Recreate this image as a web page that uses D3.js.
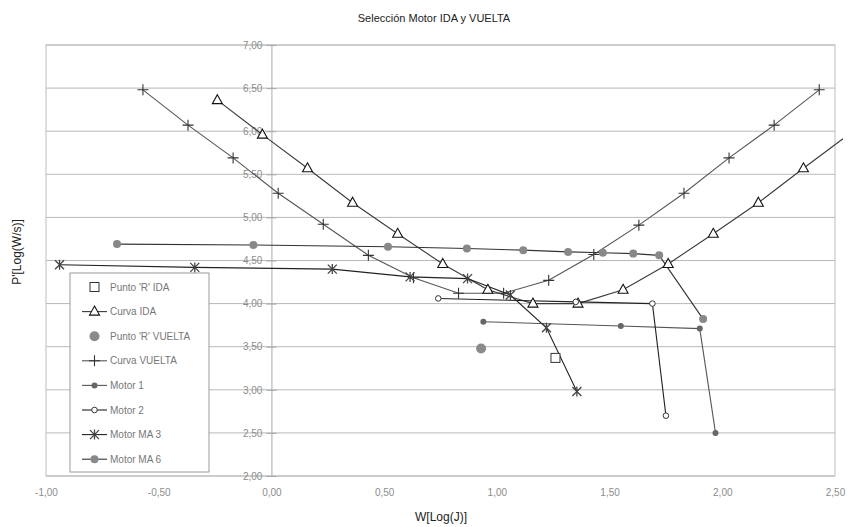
<!DOCTYPE html>
<html>
<head>
<meta charset="utf-8">
<script src="https://cdn.jsdelivr.net/npm/d3@7"></script>
<style>
  body { margin: 0; background: #fff; }
  svg { font-family: "Liberation Sans", Arial, sans-serif; }
</style>
</head>
<body>
<div id="chart"></div>
<script>
// data
var xTicks = [-1, -0.5, 0, 0.5, 1, 1.5, 2, 2.5];
var yTicks = [2, 2.5, 3, 3.5, 4, 4.5, 5, 5.5, 6, 6.5, 7];

var puntoIdaX = [1.26];
var puntoIdaY = [3.37];

var curvaIdaX = [-0.24, -0.04, 0.16, 0.36, 0.56, 0.76, 0.96, 1.16, 1.36, 1.56, 1.76, 1.96, 2.16, 2.36, 2.56];
var curvaIdaY = [6.36, 5.96, 5.57, 5.17, 4.81, 4.46, 4.16, 4.00, 4.00, 4.16, 4.46, 4.81, 5.17, 5.57, 5.96];

var puntoVueltaX = [0.93];
var puntoVueltaY = [3.48];

var curvaVueltaX = [-0.57, -0.37, -0.17, 0.03, 0.23, 0.43, 0.63, 0.83, 1.03, 1.23, 1.43, 1.63, 1.83, 2.03, 2.23, 2.43];
var curvaVueltaY = [6.48, 6.07, 5.69, 5.28, 4.92, 4.56, 4.30, 4.12, 4.12, 4.27, 4.57, 4.91, 5.28, 5.69, 6.07, 6.48];

var motor1X = [0.94, 1.55, 1.90, 1.97];
var motor1Y = [3.79, 3.74, 3.71, 2.50];

var motor2X = [0.74, 1.35, 1.69, 1.75];
var motor2Y = [4.06, 4.02, 4.00, 2.70];

var motorMA3X = [-0.94, -0.34, 0.27, 0.615, 0.87, 1.06, 1.22, 1.355];
var motorMA3Y = [4.45, 4.42, 4.40, 4.31, 4.29, 4.10, 3.72, 2.98];

var motorMA6X = [-0.685, -0.08, 0.517, 0.867, 1.117, 1.316, 1.47, 1.605, 1.72, 1.915];
var motorMA6Y = [4.69, 4.68, 4.66, 4.64, 4.62, 4.60, 4.59, 4.58, 4.56, 3.82];

var width = 848, height = 527;
var plotLeft = 46, plotRight = 835, plotTop = 45, plotBottom = 476;

//comma decimals, plain hyphen minus
var locale = d3.formatLocale({ decimal: ',', thousands: '.', grouping: [3], currency: ['', ''], minus: '-' });
var fmt = locale.format('.2f');

var x = d3.scaleLinear().domain([-1, 2.5]).range([plotLeft, plotRight]);
var y = d3.scaleLinear().domain([2, 7]).range([plotBottom, plotTop]);

function zip(xs, ys) {
	return xs.map(function (v, i) { return [v, ys[i]]; });
}

//marker shapes drawn as small paths
function marker(g, kind, px, py) {
	if (kind === 'square') {
		g.append('rect').attr('x', px - 4.5).attr('y', py - 4.5).attr('width', 9).attr('height', 9)
			.attr('fill', '#fff').attr('stroke', '#333').attr('stroke-width', 1);
	} else if (kind === 'triangle') {
		g.append('path').attr('d', 'M' + px + ',' + (py - 5.5) + 'L' + (px + 5) + ',' + (py + 3.5) + 'L' + (px - 5) + ',' + (py + 3.5) + 'Z')
			.attr('fill', '#fff').attr('stroke', '#111').attr('stroke-width', 1.1);
	} else if (kind === 'bigdot') {
		g.append('circle').attr('cx', px).attr('cy', py).attr('r', 5).attr('fill', '#8a8a8a');
	} else if (kind === 'plus') {
		g.append('path').attr('d', 'M' + (px - 5.5) + ',' + py + 'H' + (px + 5.5) + 'M' + px + ',' + (py - 5.5) + 'V' + (py + 5.5))
			.attr('stroke', '#333').attr('stroke-width', 1.1);
	} else if (kind === 'dot') {
		g.append('circle').attr('cx', px).attr('cy', py).attr('r', 3).attr('fill', '#666');
	} else if (kind === 'circle') {
		g.append('circle').attr('cx', px).attr('cy', py).attr('r', 2.8).attr('fill', '#fff')
			.attr('stroke', '#333').attr('stroke-width', 1);
	} else if (kind === 'star') {
		g.append('path').attr('d', 'M' + (px - 4.5) + ',' + (py - 4.5) + 'L' + (px + 4.5) + ',' + (py + 4.5) +
			'M' + (px + 4.5) + ',' + (py - 4.5) + 'L' + (px - 4.5) + ',' + (py + 4.5) +
			'M' + px + ',' + (py - 5) + 'V' + (py + 5))
			.attr('stroke', '#444').attr('stroke-width', 1.3);
	} else if (kind === 'midgdot') {
		g.append('circle').attr('cx', px).attr('cy', py).attr('r', 4).attr('fill', '#888');
	}
}

var series = [
	{ name: "Punto 'R' IDA", xs: puntoIdaX, ys: puntoIdaY, line: null, mark: 'square' },
	{ name: 'Curva IDA', xs: curvaIdaX, ys: curvaIdaY, line: '#3a3a3a', mark: 'triangle' },
	{ name: "Punto 'R' VUELTA", xs: puntoVueltaX, ys: puntoVueltaY, line: null, mark: 'bigdot' },
	{ name: 'Curva VUELTA', xs: curvaVueltaX, ys: curvaVueltaY, line: '#555', mark: 'plus' },
	{ name: 'Motor 1', xs: motor1X, ys: motor1Y, line: '#555', mark: 'dot' },
	{ name: 'Motor 2', xs: motor2X, ys: motor2Y, line: '#222', mark: 'circle' },
	{ name: 'Motor MA 3', xs: motorMA3X, ys: motorMA3Y, line: '#222', mark: 'star' },
	{ name: 'Motor MA 6', xs: motorMA6X, ys: motorMA6Y, line: '#333', mark: 'midgdot' }
];

var svg = d3.select('#chart').append('svg').attr('width', width).attr('height', height);

svg.append('defs').append('clipPath').attr('id', 'clip')
	.append('rect').attr('x', plotLeft).attr('y', plotTop - 10).attr('width', 843 - plotLeft).attr('height', plotBottom - plotTop + 20);

//title
svg.append('text').attr('x', 434).attr('y', 22).attr('text-anchor', 'middle')
	.attr('font-size', 11).attr('fill', '#222').text('Selección Motor IDA y VUELTA');

//gridlines
svg.append('g').selectAll('line').data(yTicks).enter().append('line')
	.attr('x1', plotLeft).attr('x2', plotRight)
	.attr('y1', function (d) { return y(d); }).attr('y2', function (d) { return y(d); })
	.attr('stroke', '#b8b8b8').attr('stroke-width', 1);

//plot border
svg.append('rect').attr('x', plotLeft).attr('y', plotTop).attr('width', plotRight - plotLeft).attr('height', plotBottom - plotTop)
	.attr('fill', 'none').attr('stroke', '#bdbdbd').attr('stroke-width', 1);

//y axis sits at x = 0
var yAxis = d3.axisLeft(y).tickValues(yTicks).tickFormat(fmt).tickSize(5).tickPadding(4);
var yg = svg.append('g').attr('transform', 'translate(' + x(0) + ',0)').call(yAxis);
yg.select('.domain').attr('stroke', '#a8a8a8');
yg.selectAll('.tick line').attr('stroke', '#a8a8a8').attr('x2', 5).attr('x1', -5);
yg.selectAll('.tick text').attr('fill', '#8c8c8c').attr('font-size', 10)
	.attr('font-family', '"Liberation Sans", Arial, sans-serif');

//x axis at the bottom
var xAxis = d3.axisBottom(x).tickValues(xTicks).tickFormat(fmt).tickSize(0).tickPadding(13);
var xg = svg.append('g').attr('transform', 'translate(0,' + plotBottom + ')').call(xAxis);
xg.select('.domain').remove();
xg.selectAll('.tick text').attr('fill', '#8c8c8c').attr('font-size', 10)
	.attr('font-family', '"Liberation Sans", Arial, sans-serif');

//axis titles
svg.append('text').attr('x', 441).attr('y', 521).attr('text-anchor', 'middle')
	.attr('font-size', 12).attr('fill', '#222').text('W[Log(J)]');
svg.append('text').attr('transform', 'translate(21,252) rotate(-90)').attr('text-anchor', 'middle')
	.attr('font-size', 12).attr('fill', '#222').text("P'[Log(W/s)]");

//series
var lineGen = d3.line().x(function (d) { return x(d[0]); }).y(function (d) { return y(d[1]); });
var plot = svg.append('g').attr('clip-path', 'url(#clip)');

series.forEach(function (s) {
	var pts = zip(s.xs, s.ys);
	if (s.line) {
		plot.append('path').datum(pts).attr('d', lineGen)
			.attr('fill', 'none').attr('stroke', s.line).attr('stroke-width', 1.1);
	}
});
series.forEach(function (s) {
	var g = plot.append('g');
	zip(s.xs, s.ys).forEach(function (p) {
		if (p[0] <= 2.5) marker(g, s.mark, x(p[0]), y(p[1]));
	});
});

//legend
var lg = svg.append('g');
lg.append('rect').attr('x', 70).attr('y', 273).attr('width', 139).attr('height', 199)
	.attr('fill', '#fff').attr('stroke', '#9a9a9a').attr('stroke-width', 1);
series.forEach(function (s, i) {
	var cy = 287 + i * 24.6;
	if (s.line) {
		lg.append('line').attr('x1', 82).attr('x2', 107).attr('y1', cy).attr('y2', cy)
			.attr('stroke', s.line).attr('stroke-width', 1.1);
	}
	marker(lg, s.mark, 94.5, cy);
	lg.append('text').attr('x', 110).attr('y', cy + 3.5).attr('font-size', 10)
		.attr('fill', '#777').text(s.name);
});
</script>
</body>
</html>
